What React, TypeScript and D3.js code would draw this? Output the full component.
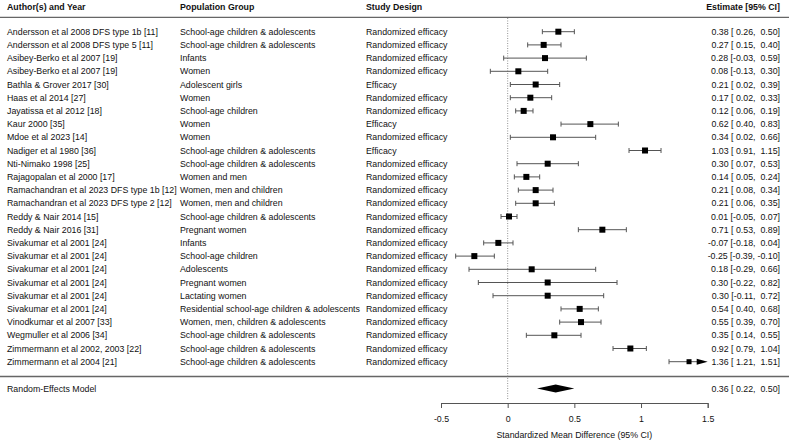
import * as d3 from 'd3';
import React, { useEffect, useRef } from 'react';

const authors = [
	'Andersson et al 2008 DFS type 1b [11]',
	'Andersson et al 2008 DFS type 5 [11]',
	'Asibey-Berko et al 2007 [19]',
	'Asibey-Berko et al 2007 [19]',
	'Bathla & Grover 2017 [30]',
	'Haas et al 2014 [27]',
	'Jayatissa et al 2012 [18]',
	'Kaur 2000 [35]',
	'Mdoe et al 2023 [14]',
	'Nadiger et al 1980 [36]',
	'Nti-Nimako 1998 [25]',
	'Rajagopalan et al 2000 [17]',
	'Ramachandran et al 2023 DFS type 1b [12]',
	'Ramachandran et al 2023 DFS type 2 [12]',
	'Reddy & Nair 2014 [15]',
	'Reddy & Nair 2016 [31]',
	'Sivakumar et al 2001 [24]',
	'Sivakumar et al 2001 [24]',
	'Sivakumar et al 2001 [24]',
	'Sivakumar et al 2001 [24]',
	'Sivakumar et al 2001 [24]',
	'Sivakumar et al 2001 [24]',
	'Vinodkumar et al 2007 [33]',
	'Wegmuller et al 2006 [34]',
	'Zimmermann et al 2002, 2003 [22]',
	'Zimmermann et al 2004 [21]',
];

const populations = [
	'School-age children & adolescents',
	'School-age children & adolescents',
	'Infants',
	'Women',
	'Adolescent girls',
	'Women',
	'School-age children',
	'Women',
	'Women',
	'School-age children & adolescents',
	'School-age children & adolescents',
	'Women and men',
	'Women, men and children',
	'Women, men and children',
	'School-age children & adolescents',
	'Pregnant women',
	'Infants',
	'School-age children',
	'Adolescents',
	'Pregnant women',
	'Lactating women',
	'Residential school-age children & adolescents',
	'Women, men, children & adolescents',
	'School-age children & adolescents',
	'School-age children & adolescents',
	'School-age children & adolescents',
];

const designs = [
	'Randomized efficacy', 'Randomized efficacy', 'Randomized efficacy', 'Randomized efficacy',
	'Efficacy', 'Randomized efficacy', 'Randomized efficacy', 'Efficacy', 'Randomized efficacy',
	'Efficacy', 'Randomized efficacy', 'Randomized efficacy', 'Randomized efficacy',
	'Randomized efficacy', 'Randomized efficacy', 'Randomized efficacy', 'Randomized efficacy',
	'Randomized efficacy', 'Randomized efficacy', 'Randomized efficacy', 'Randomized efficacy',
	'Randomized efficacy', 'Randomized efficacy', 'Randomized efficacy', 'Randomized efficacy',
	'Randomized efficacy',
];

const estimates = [0.38, 0.27, 0.28, 0.08, 0.21, 0.17, 0.12, 0.62, 0.34, 1.03, 0.30, 0.14, 0.21, 0.21, 0.01, 0.71, -0.07, -0.25, 0.18, 0.30, 0.30, 0.54, 0.55, 0.35, 0.92, 1.36];
const lowers = [0.26, 0.15, -0.03, -0.13, 0.02, 0.02, 0.06, 0.40, 0.02, 0.91, 0.07, 0.05, 0.08, 0.06, -0.05, 0.53, -0.18, -0.39, -0.29, -0.22, -0.11, 0.40, 0.39, 0.14, 0.79, 1.21];
const uppers = [0.50, 0.40, 0.59, 0.30, 0.39, 0.33, 0.19, 0.83, 0.66, 1.15, 0.53, 0.24, 0.34, 0.35, 0.07, 0.89, 0.04, -0.10, 0.66, 0.82, 0.72, 0.68, 0.70, 0.55, 1.04, 1.51];
const squareSizes = [6, 6, 6, 6, 6, 6, 6, 6, 6, 6, 6, 6, 6, 6, 6, 6, 6, 6, 6, 6, 6, 6, 6, 6, 6, 5];

const pooled = { est: 0.36, lo: 0.22, hi: 0.50 };
const xTicks = [-0.5, 0, 0.5, 1, 1.5];

const fmt = (v: number) => (v < 0 ? '' : ' ') + v.toFixed(2);
const label = (e: number, l: number, u: number) => `${e.toFixed(2)} [${fmt(l)}, ${fmt(u)}]`;

export default function App(): React.JSX.Element {
	const ref = useRef<SVGSVGElement | null>(null);

	useEffect(() => {
		if (ref.current === null) return;
		const width = 789;
		const height = 443;
		const svg = d3.select(ref.current).attr('width', width).attr('height', height);
		svg.selectAll('*').remove();

		const font = 'Liberation Sans, Arial, sans-serif';
		const fs = 8.8;
		const x = d3.scaleLinear().domain([-0.5, 1.5]).range([441, 707.7]);
		const y = d3.scalePoint<number>().domain(d3.range(authors.length)).range([31.7, 361.7]);
		const colAuthor = 7;
		const colPop = 180;
		const colDesign = 366;
		const colEst = 780;

		const g = svg.append('g').attr('font-family', font).attr('font-size', fs).attr('fill', '#111');

		// headers
		const headers: [string, number, string][] = [
			['Author(s) and Year', colAuthor, 'start'],
			['Population Group', colPop, 'start'],
			['Study Design', colDesign, 'start'],
			['Estimate [95% CI]', colEst, 'end'],
		];
		g.selectAll('text.hdr').data(headers).enter().append('text')
			.attr('class', 'hdr')
			.attr('x', d => d[1]).attr('y', 6.5).attr('dy', '0.35em')
			.attr('text-anchor', d => d[2])
			.attr('font-weight', 'bold')
			.text(d => d[0]);

		svg.append('line').attr('x1', 0).attr('x2', width).attr('y1', 17.3).attr('y2', 17.3)
			.attr('stroke', '#666').attr('stroke-width', 1.3);
		svg.append('line').attr('x1', 0).attr('x2', width).attr('y1', 376.5).attr('y2', 376.5)
			.attr('stroke', '#666').attr('stroke-width', 1.3);

		// reference line at 0
		svg.append('line').attr('x1', x(0)).attr('x2', x(0)).attr('y1', 18).attr('y2', 400)
			.attr('stroke', '#777').attr('stroke-width', 0.8).attr('stroke-dasharray', '1,1.5');

		const rows = d3.range(authors.length);
		const cols: [string[], number][] = [[authors, colAuthor], [populations, colPop], [designs, colDesign]];
		cols.forEach(([arr, cx]) => {
			g.append('g').selectAll('text').data(rows).enter().append('text')
				.attr('x', cx).attr('y', i => y(i) ?? 0).attr('dy', '0.35em')
				.text(i => arr[i]);
		});
		g.append('g').selectAll('text').data(rows).enter().append('text')
			.attr('x', colEst).attr('y', i => y(i) ?? 0).attr('dy', '0.35em')
			.attr('text-anchor', 'end').style('white-space', 'pre')
			.text(i => label(estimates[i], lowers[i], uppers[i]));

		// CIs
		const ci = svg.append('g').attr('stroke', '#555').attr('stroke-width', 1);
		rows.forEach(i => {
			const yy = y(i) ?? 0;
			const lo = Math.max(lowers[i], -0.5);
			const clipped = uppers[i] > 1.5;
			const hi = Math.min(uppers[i], 1.5);
			ci.append('line').attr('x1', x(lo)).attr('x2', clipped ? x(hi) - 8 : x(hi)).attr('y1', yy).attr('y2', yy);
			ci.append('line').attr('x1', x(lo)).attr('x2', x(lo)).attr('y1', yy - 2.5).attr('y2', yy + 2.5);
			if (clipped) {
				svg.append('polygon')
					.attr('points', `${x(hi) - 11},${yy - 3} ${x(hi)},${yy} ${x(hi) - 11},${yy + 3}`)
					.attr('fill', '#000');
			} else {
				ci.append('line').attr('x1', x(hi)).attr('x2', x(hi)).attr('y1', yy - 2.5).attr('y2', yy + 2.5);
			}
		});
		svg.append('g').selectAll('rect').data(rows).enter().append('rect')
			.attr('x', i => x(estimates[i]) - squareSizes[i] / 2)
			.attr('y', i => (y(i) ?? 0) - squareSizes[i] / 2)
			.attr('width', i => squareSizes[i]).attr('height', i => squareSizes[i])
			.attr('fill', '#000');

		// pooled
		const py = 388.5;
		g.append('text').attr('x', colAuthor).attr('y', py).attr('dy', '0.35em').text('Random-Effects Model');
		g.append('text').attr('x', colEst).attr('y', py).attr('dy', '0.35em')
			.attr('text-anchor', 'end').style('white-space', 'pre')
			.text(label(pooled.est, pooled.lo, pooled.hi));
		svg.append('polygon')
			.attr('points', `${x(pooled.lo)},${py} ${x(pooled.est)},${py - 4} ${x(pooled.hi)},${py} ${x(pooled.est)},${py + 4}`)
			.attr('fill', '#000');

		// axis
		const axis = svg.append('g').attr('transform', 'translate(0, 403)')
			.call(d3.axisBottom(x).tickValues(xTicks).tickFormat(d => String(d)).tickSize(5).tickPadding(8));
		axis.select('.domain').attr('stroke', '#555');
		axis.selectAll('.tick line').attr('stroke', '#555');
		axis.selectAll('.tick text').attr('font-family', font).attr('font-size', fs).attr('fill', '#111');

		g.append('text').attr('x', x(0.5)).attr('y', 435).attr('dy', '0.35em')
			.attr('text-anchor', 'middle').text('Standardized Mean Difference (95% CI)');
	}, []);

	return <svg ref={ref} style={{ position: 'absolute', left: 0, top: 0 }} />;
}
